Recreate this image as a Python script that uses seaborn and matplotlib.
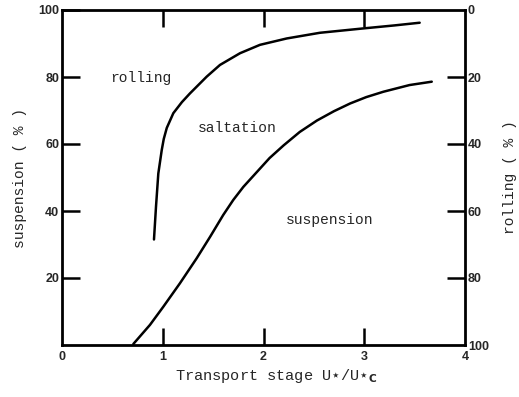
import matplotlib
matplotlib.use("Agg")
import matplotlib.pyplot as plt
import seaborn as sns
import pandas as pd

# Data
upper_x = [0.913, 0.933, 0.956, 0.99, 1.01, 1.04, 1.105, 1.19, 1.27, 1.436, 1.568, 1.767, 1.965, 2.23, 2.56, 2.99, 3.3, 3.55]
upper_y = [31.5, 41.3, 51.2, 58.2, 61.5, 64.8, 69.2, 72.5, 75.1, 80.1, 83.6, 87.1, 89.6, 91.5, 93.2, 94.5, 95.4, 96.2]
lower_x = [0.708, 0.873, 1.005, 1.17, 1.337, 1.47, 1.60, 1.70, 1.80, 1.93, 2.06, 2.2, 2.36, 2.53, 2.7, 2.86, 3.02, 3.19, 3.45, 3.67]
lower_y = [0.3, 6.0, 11.4, 18.4, 25.9, 32.3, 38.8, 43.3, 47.2, 51.5, 55.8, 59.6, 63.6, 67.0, 69.8, 72.1, 74.0, 75.6, 77.6, 78.6]

x_ticks = [0, 1, 2, 3, 4]
left_ticks = [20, 40, 60, 80, 100]
right_ticks = [0, 20, 40, 60, 80, 100]
right_labels = ["0", "20", "40", "60", "80", "100"]

region_labels = ["rolling", "saltation", "suspension"]
region_x = [0.78, 1.74, 2.66]
region_y = [79.7, 64.8, 37.3]

sns.set_style("white")
plt.rcParams["font.family"] = ["DejaVu Sans"]
plt.rcParams["mathtext.fontset"] = "dejavusans"

fig = plt.figure(figsize=(5.19, 3.97), dpi=100)
ax = fig.add_axes([62/519, 1-345/397, (465-62)/519, (345-10)/397])

df_u = pd.DataFrame({"x": upper_x, "y": upper_y})
df_l = pd.DataFrame({"x": lower_x, "y": lower_y})
sns.lineplot(data=df_u, x="x", y="y", ax=ax, color="black", lw=1.8, sort=False, estimator=None)
sns.lineplot(data=df_l, x="x", y="y", ax=ax, color="black", lw=1.8, sort=False, estimator=None)

ax.set_xlim(0, 4)
ax.set_ylim(0, 100)
for s in ax.spines.values():
    s.set_color("black")
    s.set_linewidth(2)

tickfont = dict(family="Liberation Sans", weight="bold", size=9)
labfont = dict(family=["Liberation Mono", "DejaVu Sans"], size=10.5)

ax.set_xticks(x_ticks)
ax.set_xticklabels([str(v) for v in x_ticks], **tickfont)
ax.set_yticks(left_ticks)
ax.set_yticklabels([str(v) for v in left_ticks], **tickfont)
ax.tick_params(axis="x", direction="in", length=12, width=1.8, pad=4, bottom=True, top=True, color="black")
ax.tick_params(axis="y", direction="in", length=13, width=1.8, pad=2, left=True, color="black")
for t in [ax.xaxis.get_major_ticks()[0], ax.xaxis.get_major_ticks()[-1]]:
    t.tick1line.set_visible(False)
    t.tick2line.set_visible(False)
ax.yaxis.get_major_ticks()[-1].tick1line.set_visible(False)

ax2 = ax.twinx()
ax2.set_ylim(100, 0)
ax2.set_yticks(right_ticks)
ax2.set_yticklabels(right_labels, **tickfont)
ax2.tick_params(axis="y", direction="in", length=13, width=1.8, pad=2, color="black")
for i, t in enumerate(ax2.yaxis.get_major_ticks()):
    if i in (0, 5):
        t.tick2line.set_visible(False)
for s in ax2.spines.values():
    s.set_visible(False)
ax2.grid(False)
ax.grid(False)

ax.set_xlabel("Transport stage U$\\star$/U$\\star_{\\mathbf{C}}$", fontsize=11,
              family="Liberation Mono")
ax.xaxis.set_label_coords(0.531, -0.065)
ax.set_ylabel("suspension ( % )", labelpad=8, **labfont)
ax2.set_ylabel("rolling ( % )", labelpad=10, **labfont)

for lab, xx, yy in zip(region_labels, region_x, region_y):
    ax.text(xx, yy, lab, ha="center", va="center", **labfont)

fig.savefig("out.png", dpi=100)
